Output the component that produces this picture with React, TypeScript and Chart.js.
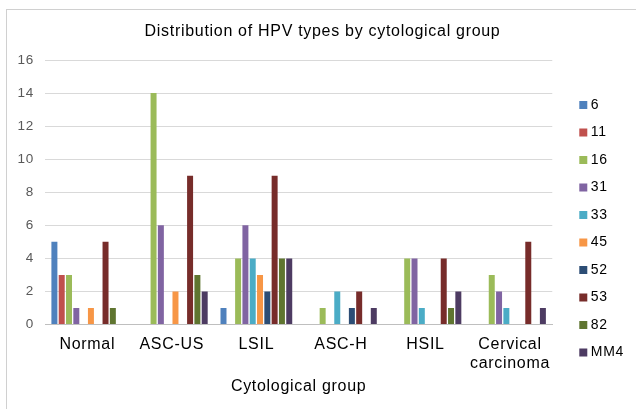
import React, { useEffect, useRef } from 'react';
import { Chart, registerables } from 'chart.js';

Chart.register(...registerables);

const categories: (string | string[])[] = ['Normal', 'ASC-US', 'LSIL', 'ASC-H', 'HSIL', ['Cervical', 'carcinoma']];

const hpv6 = [5, 0, 1, 0, 0, 0];
const hpv11 = [3, 0, 0, 0, 0, 0];
const hpv16 = [3, 14, 4, 1, 4, 3];
const hpv31 = [1, 6, 6, 0, 4, 2];
const hpv33 = [0, 0, 4, 2, 1, 1];
const hpv45 = [1, 2, 3, 0, 0, 0];
const hpv52 = [0, 0, 2, 1, 0, 0];
const hpv53 = [5, 9, 9, 2, 4, 5];
const hpv82 = [1, 3, 4, 0, 1, 0];
const hpvMM4 = [0, 2, 4, 1, 2, 1];

const seriesNames = ['6', '11', '16', '31', '33', '45', '52', '53', '82', 'MM4'];
const seriesValues = [hpv6, hpv11, hpv16, hpv31, hpv33, hpv45, hpv52, hpv53, hpv82, hpvMM4];
const seriesColors = ['#4F81BD', '#C0504D', '#9BBB59', '#8064A2', '#4BACC6', '#F79646', '#2C4D75', '#772C2A', '#5F7530', '#4D3B62'];

const yMin = 0;
const yMax = 16;
const yStep = 2;

const chartTitle = 'Distribution of HPV types by cytological group';
const xAxisTitle = 'Cytological group';

const FONT = "'Liberation Sans', Arial, Helvetica, sans-serif";

const spacingPlugin = {
  id: 'letterSpacing',
  afterInit(chart: any) { (chart.ctx as any).letterSpacing = '0.7px'; },
  beforeUpdate(chart: any) { (chart.ctx as any).letterSpacing = '0.7px'; },
  beforeDraw(chart: any) { (chart.ctx as any).letterSpacing = '0.7px'; },
};

export default function App() {
  const ref = useRef<HTMLCanvasElement | null>(null);

  useEffect(() => {
    if (!ref.current) return;
    Chart.defaults.font.family = FONT;
    const chart = new Chart(ref.current, {
      type: 'bar',
      data: {
        labels: categories as any,
        datasets: seriesNames.map((name, i) => ({
          label: name,
          data: seriesValues[i],
          backgroundColor: seriesColors[i],
          borderWidth: 0,
          categoryPercentage: 0.864,
          barPercentage: 0.82,
        })),
      },
      options: {
        responsive: false,
        animation: false,
        layout: { padding: { left: 11, right: 2, top: 0, bottom: 4 } },
        plugins: {
          title: {
            display: true,
            text: chartTitle,
            color: '#000',
            font: { size: 16, weight: 'normal' },
            padding: { top: 22.4, bottom: 18.4 },
          },
          legend: {
            position: 'right',
            align: 'start',
            title: { display: true, text: ' ', font: { size: 10 }, padding: 36.25 },
            labels: {
              color: '#000',
              font: { size: 14 },
              usePointStyle: true,
              pointStyle: 'rect',
              boxWidth: 1,
              boxHeight: 8,
              padding: 13.5,
            },
          },
          tooltip: { enabled: false },
        },
        scales: {
          x: {
            grid: { display: false, drawTicks: false },
            border: { display: true, color: '#bfbfbf' },
            ticks: {
              color: '#000',
              font: { size: 16, lineHeight: 1.1875 },
              padding: 10.5,
              maxRotation: 0,
              autoSkip: false,
            },
            title: {
              display: true,
              text: xAxisTitle,
              color: '#000',
              font: { size: 16 },
              padding: { top: -6.1, bottom: 8.4 },
            },
          },
          y: {
            min: yMin,
            max: yMax,
            ticks: { stepSize: yStep, color: '#595959', font: { size: 13.5 }, padding: 11 },
            grid: { color: '#d9d9d9', drawTicks: false },
            border: { display: false },
            afterFit: (s: any) => { s.width = 34; },
          },
          y2: {
            position: 'right',
            display: true,
            grid: { display: false, drawTicks: false },
            ticks: { display: false },
            border: { display: false },
            afterFit: (s: any) => { s.width = 17; },
          },
        },
      } as any,
      plugins: [spacingPlugin as any],
    });
    return () => chart.destroy();
  }, []);

  return (
    <div style={{ position: 'fixed', left: 0, top: 0, width: 636, height: 409, overflow: 'hidden', background: '#fff' }}>
      <div style={{ position: 'absolute', left: 6, top: 9, width: 700, height: 500, border: '1px solid #d0d0d0' }} />
      <canvas ref={ref} width={636} height={409} style={{ position: 'absolute', left: 0, top: 0 }} />
    </div>
  );
}
